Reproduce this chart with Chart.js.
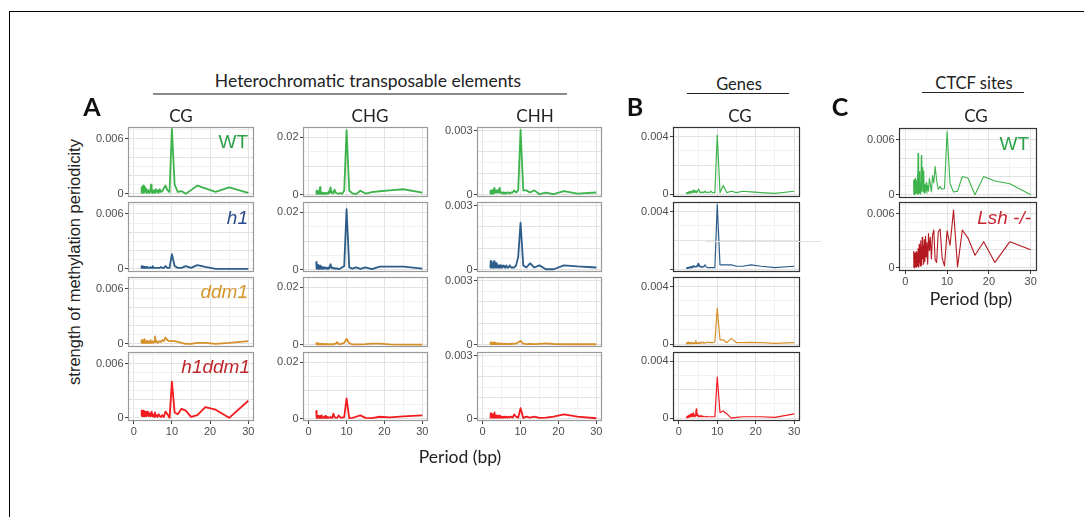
<!DOCTYPE html>
<html>
<head>
<meta charset="utf-8">
<title>Methylation periodicity</title>
<script src="https://cdn.jsdelivr.net/npm/chart.js@4.4.0/dist/chart.umd.min.js"></script>
<style>
    html, body { margin: 0; padding: 0; background: #fff; }
    #fig { position: relative; width: 1084px; height: 517px; overflow: hidden; }
    .frame-top { position: absolute; left: 9px; top: 11px; width: 1080px; height: 0; border-top: 1.5px solid #000; }
    .frame-left { position: absolute; left: 9px; top: 11px; width: 0; height: 520px; border-left: 1.5px solid #000; }
    .rule { position: absolute; height: 0; }
    .txt { position: absolute; white-space: nowrap; line-height: 1; color: #222; transform: translate(-50%, -50%); z-index: 5; }
    .hdr { font-family: Lato, 'Open Sans', sans-serif; font-size: 16.5px; }
    .letter { font-family: Lato, sans-serif; font-weight: 700; font-size: 25px; color: #111; }
    .tag { font-family: 'Liberation Sans', Arial, sans-serif; font-size: 19px; transform: translate(-100%, -50%); }
    canvas.panel { position: absolute; z-index: 1; }
</style>
</head>
<body>
<div id="fig">
    <div class="frame-top"></div>
    <div class="frame-left"></div>

    <div class="txt hdr" style="left:368px; top:81px; font-size:17.5px;">Heterochromatic transposable elements</div>
    <div class="rule" style="left:153px; top:93px; width:414px; border-top:2px solid #8a8a8a;"></div>
    <div class="txt letter" style="left:92px; top:106px;">A</div>
    <div class="txt hdr" style="left:181px; top:115px; font-size:17px;">CG</div>
    <div class="txt hdr" style="left:370px; top:115px; font-size:17px;">CHG</div>
    <div class="txt hdr" style="left:535px; top:115px; font-size:17px;">CHH</div>

    <div class="txt letter" style="left:635px; top:106px;">B</div>
    <div class="txt hdr" style="left:739px; top:84px;">Genes</div>
    <div class="rule" style="left:687px; top:93px; width:102px; border-top:1.5px solid #222;"></div>
    <div class="txt hdr" style="left:740px; top:115px; font-size:17px;">CG</div>

    <div class="txt letter" style="left:840px; top:106px;">C</div>
    <div class="txt hdr" style="left:974px; top:83px;">CTCF sites</div>
    <div class="rule" style="left:922px; top:92px; width:102px; border-top:1.5px solid #222;"></div>
    <div class="txt hdr" style="left:976px; top:115px; font-size:17px;">CG</div>

    <div class="txt" style="left:74px; top:262px; font-family:'Liberation Sans', Arial, sans-serif; font-size:16.5px; transform:translate(-50%, -50%) rotate(-90deg);">strength of methylation periodicity</div>
    <div class="txt hdr" style="left:460px; top:457px; font-size:17.5px;">Period (bp)</div>
    <div class="txt hdr" style="left:971px; top:299px; font-size:17.5px;">Period (bp)</div>

    <div class="rule" style="left:706px; top:241px; width:115px; border-top:1px solid #e2e2e2; z-index:3;"></div>

    <div class="tag txt" style="left:248px; top:141px; color:#2ca148;">WT</div>
    <div class="tag txt" style="left:248px; top:217px; color:#2b4a8c; font-style:italic;">h1</div>
    <div class="tag txt" style="left:248px; top:291px; color:#d4952b; font-style:italic;">ddm1</div>
    <div class="tag txt" style="left:250px; top:366px; color:#c0272d; font-style:italic;">h1ddm1</div>
    <div class="tag txt" style="left:1029px; top:143px; color:#2ca148;">WT</div>
    <div class="tag txt" style="left:1031px; top:217px; color:#c62832; font-style:italic;">Lsh -/-</div>
</div>

<script>
// Period axis (bp), ascending
const period = [
    2, 2.03, 2.05, 2.08, 2.11, 2.14, 2.17, 2.21, 2.24, 2.27,
    2.31, 2.34, 2.38, 2.42, 2.46, 2.5, 2.54, 2.59, 2.63, 2.68,
    2.73, 2.78, 2.83, 2.88, 2.94, 3, 3.06, 3.13, 3.19, 3.26,
    3.33, 3.41, 3.49, 3.57, 3.66, 3.75, 3.85, 3.95, 4.05, 4.17,
    4.29, 4.41, 4.55, 4.69, 4.84, 5, 5.17, 5.36, 5.56, 5.77,
    6, 6.25, 6.52, 6.82, 7.14, 7.5, 7.89, 8.33, 8.82, 9.38,
    10, 10.71, 11.54, 12.5, 13.64, 15, 16.67, 18.75, 21.43, 25, 30
];

const xTickLabels = [0, 10, 20, 30];
const xGridLines = [0, 5, 10, 15, 20, 25, 30];

// A - heterochromatic TEs, CG
const cgWT = [
    0.0001, 0.0004, 0.0002, 0.0006, 0.0003, 0.0007, 0.0002, 0.0005, 0.0008, 0.0003,
    0.0006, 0.0002, 0.0007, 0.0004, 0.0009, 0.0003, 0.0005, 0.0001, 0.0006, 0.0004,
    0.0008, 0.0002, 0.0005, 0.0003, 0.0007, 0.0002, 0.0004, 0.0006, 0.0003, 0.0005,
    0.0001, 0.0004, 0.0002, 0.0003, 0.0001, 0.0002, 0.0004, 0.0002, 0.0003, 0.0001,
    0.0003, 0.0006, 0.0010, 0.0003, 0.0001, 0.0002, 0.0004, 0.0001, 0.0003, 0.0005,
    0.0002, 0.0004, 0.0001, 0.0005, 0.0002, 0.0003, 0.0006, 0.0009, 0.0004, 0.0002,
    0.0071, 0.0010, 0.0002, 0.0003, 0.0000, 0.0004, 0.0009, 0.0006, 0.0002, 0.0007, 0.0001
];
const cgH1 = [
    0.0002, 0.0001, 0.0003, 0.0001, 0.0002, 0.0003, 0.0001, 0.0002, 0.0001, 0.0003,
    0.0001, 0.0002, 0.0001, 0.0003, 0.0001, 0.0002, 0.0001, 0.0002, 0.0001, 0.0001,
    0.0002, 0.0001, 0.0001, 0.0002, 0.0001, 0.0001, 0.0002, 0.0001, 0.0001, 0.0001,
    0.0002, 0.0001, 0.0001, 0.0001, 0.0002, 0.0001, 0.0001, 0.0001, 0.0001, 0.0001,
    0.0001, 0.0002, 0.0001, 0.0001, 0.0001, 0.0003, 0.0001, 0.0001, 0.0001, 0.0001,
    0.0001, 0.0001, 0.0001, 0.0001, 0.0002, 0.0001, 0.0001, 0.0003, 0.0001, 0.0001,
    0.0016, 0.0003, 0.0001, 0.0001, 0.0003, 0.0001, 0.0004, 0.0002, 0.0000, 0.0000, 0.0000
];
const cgDdm1 = [
    0.0003, 0.0001, 0.0004, 0.0002, 0.0001, 0.0003, 0.0001, 0.0002, 0.0004, 0.0001,
    0.0002, 0.0001, 0.0003, 0.0001, 0.0002, 0.0001, 0.0004, 0.0002, 0.0001, 0.0002,
    0.0001, 0.0003, 0.0001, 0.0005, 0.0001, 0.0002, 0.0001, 0.0003, 0.0002, 0.0001,
    0.0002, 0.0001, 0.0003, 0.0001, 0.0002, 0.0001, 0.0003, 0.0002, 0.0001, 0.0002,
    0.0001, 0.0004, 0.0002, 0.0001, 0.0002, 0.0003, 0.0001, 0.0002, 0.0008, 0.0002,
    0.0003, 0.0001, 0.0002, 0.0003, 0.0002, 0.0004, 0.0003, 0.0007, 0.0004, 0.0003,
    0.0003, 0.0003, 0.0002, 0.0001, 0.0000, 0.0000, 0.0001, 0.0001, 0.0000, 0.0001, 0.0003
];
const cgH1ddm1 = [
    0.0002, 0.0006, 0.0003, 0.0008, 0.0004, 0.0007, 0.0002, 0.0006, 0.0003, 0.0008,
    0.0004, 0.0006, 0.0002, 0.0007, 0.0003, 0.0005, 0.0008, 0.0002, 0.0006, 0.0003,
    0.0007, 0.0004, 0.0006, 0.0002, 0.0005, 0.0003, 0.0007, 0.0002, 0.0005, 0.0004,
    0.0006, 0.0002, 0.0004, 0.0007, 0.0003, 0.0005, 0.0002, 0.0006, 0.0003, 0.0004,
    0.0002, 0.0005, 0.0003, 0.0007, 0.0002, 0.0004, 0.0003, 0.0001, 0.0006, 0.0002,
    0.0003, 0.0001, 0.0004, 0.0002, 0.0001, 0.0003, 0.0001, 0.0007, 0.0004, 0.0000,
    0.0040, 0.0006, 0.0004, 0.0010, 0.0008, 0.0001, 0.0003, 0.0012, 0.0009, 0.0000, 0.0019
];

// A - heterochromatic TEs, CHG
const chgWT = [
    0.0012, 0.0004, 0.0015, 0.0006, 0.0010, 0.0003, 0.0013, 0.0005, 0.0008, 0.0004,
    0.0011, 0.0003, 0.0007, 0.0005, 0.0012, 0.0004, 0.0009, 0.0003, 0.0006, 0.0004,
    0.0008, 0.0005, 0.0010, 0.0004, 0.0007, 0.0026, 0.0006, 0.0009, 0.0003, 0.0005,
    0.0008, 0.0004, 0.0006, 0.0003, 0.0007, 0.0005, 0.0004, 0.0006, 0.0003, 0.0005,
    0.0004, 0.0006, 0.0003, 0.0005, 0.0004, 0.0007, 0.0005, 0.0012, 0.0008, 0.0026,
    0.0006, 0.0010, 0.0004, 0.0018, 0.0007, 0.0005, 0.0004, 0.0006, 0.0003, 0.0014,
    0.0225, 0.0014, 0.0005, 0.0002, 0.0014, 0.0004, 0.0009, 0.0012, 0.0015, 0.0019, 0.0007
];
const chgH1 = [
    0.0027, 0.0006, 0.0020, 0.0004, 0.0015, 0.0008, 0.0022, 0.0005, 0.0012, 0.0006,
    0.0018, 0.0004, 0.0010, 0.0007, 0.0016, 0.0003, 0.0009, 0.0005, 0.0013, 0.0004,
    0.0008, 0.0011, 0.0005, 0.0009, 0.0003, 0.0014, 0.0006, 0.0008, 0.0004, 0.0010,
    0.0005, 0.0007, 0.0003, 0.0009, 0.0005, 0.0004, 0.0006, 0.0003, 0.0008, 0.0004,
    0.0005, 0.0007, 0.0004, 0.0006, 0.0003, 0.0005, 0.0008, 0.0004, 0.0010, 0.0019,
    0.0006, 0.0008, 0.0004, 0.0006, 0.0003, 0.0005, 0.0002, 0.0004, 0.0008, 0.0012,
    0.0211, 0.0008, 0.0004, 0.0008, 0.0003, 0.0008, 0.0002, 0.0011, 0.0011, 0.0011, 0.0004
];
const chgDdm1 = [
    0.0006, 0.0002, 0.0005, 0.0001, 0.0004, 0.0002, 0.0006, 0.0001, 0.0003, 0.0002,
    0.0005, 0.0001, 0.0003, 0.0002, 0.0004, 0.0001, 0.0003, 0.0002, 0.0001, 0.0003,
    0.0002, 0.0001, 0.0004, 0.0001, 0.0002, 0.0003, 0.0001, 0.0002, 0.0001, 0.0003,
    0.0001, 0.0002, 0.0001, 0.0003, 0.0001, 0.0002, 0.0001, 0.0002, 0.0001, 0.0002,
    0.0001, 0.0003, 0.0001, 0.0002, 0.0001, 0.0002, 0.0001, 0.0002, 0.0001, 0.0002,
    0.0001, 0.0002, 0.0001, 0.0003, 0.0004, 0.0009, 0.0003, 0.0002, 0.0004, 0.0006,
    0.0021, 0.0005, 0.0001, 0.0001, 0.0001, 0.0002, 0.0004, 0.0004, 0.0001, 0.0000, 0.0000
];
const chgH1ddm1 = [
    0.0028, 0.0006, 0.0012, 0.0004, 0.0010, 0.0005, 0.0013, 0.0003, 0.0009, 0.0005,
    0.0011, 0.0004, 0.0008, 0.0003, 0.0010, 0.0005, 0.0007, 0.0003, 0.0009, 0.0004,
    0.0006, 0.0003, 0.0008, 0.0004, 0.0005, 0.0009, 0.0003, 0.0006, 0.0004, 0.0008,
    0.0003, 0.0005, 0.0012, 0.0004, 0.0006, 0.0003, 0.0005, 0.0004, 0.0007, 0.0003,
    0.0005, 0.0010, 0.0003, 0.0004, 0.0006, 0.0003, 0.0005, 0.0004, 0.0003, 0.0006,
    0.0004, 0.0003, 0.0018, 0.0006, 0.0004, 0.0003, 0.0012, 0.0005, 0.0004, 0.0006,
    0.0072, 0.0002, 0.0003, 0.0007, 0.0012, 0.0003, 0.0002, 0.0007, 0.0005, 0.0008, 0.0012
];

// A - heterochromatic TEs, CHH
const chhWT = [
    0.0001, 0.0002, 0.00005, 0.00015, 0.0001, 0.0002, 0.00005, 0.0001, 0.0002, 0.0001,
    0.00015, 0.00005, 0.0002, 0.0001, 0.00015, 0.0001, 0.0002, 0.00005, 0.0001, 0.00015,
    0.0001, 0.0002, 0.00005, 0.00015, 0.0001, 0.0003, 0.0001, 0.00015, 0.0001, 0.0002,
    0.0001, 0.00015, 0.0001, 0.0002, 0.0001, 0.00015, 0.0001, 0.0001, 0.0002, 0.0001,
    0.0001, 0.0003, 0.0001, 0.00015, 0.0001, 0.0001, 0.00005, 0.0001, 0.0001, 0.00005,
    0.0001, 0.00005, 0.0001, 0.0001, 0.00005, 0.0001, 0.0001, 0.0002, 0.0001, 0.0002,
    0.00303, 0.0002, 0.0002, 0.0001, 0.0002, 0.00002, 0.0001, 0.00002, 0.00017, 0.00005, 0.0001
];
const chhH1 = [
    0.0002, 0.0004, 0.0001, 0.0003, 0.0002, 0.0004, 0.0001, 0.0003, 0.0002, 0.0003,
    0.0001, 0.0003, 0.0002, 0.0004, 0.0001, 0.0002, 0.0003, 0.0001, 0.0002, 0.0003,
    0.0001, 0.0002, 0.0003, 0.0001, 0.0002, 0.0004, 0.0001, 0.0002, 0.0001, 0.0003,
    0.0002, 0.0001, 0.0002, 0.0003, 0.0001, 0.0002, 0.0001, 0.0002, 0.0001, 0.0002,
    0.0001, 0.0002, 0.0001, 0.0002, 0.0001, 0.0002, 0.0001, 0.0001, 0.0002, 0.0001,
    0.0001, 0.0002, 0.0001, 0.0001, 0.0002, 0.0001, 0.0001, 0.0001, 0.0002, 0.0006,
    0.0022, 0.0002, 0.0001, 0.0003, 0.0001, 0.0002, 0.00002, 0.00002, 0.0002, 0.00015, 0.0001
];
const chhDdm1 = [
    0.00005, 0.0001, 0.00003, 0.00008, 0.00005, 0.0001, 0.00003, 0.00007, 0.00004, 0.00009,
    0.00003, 0.00008, 0.00005, 0.0001, 0.00003, 0.00006, 0.00004, 0.00009, 0.00003, 0.00006,
    0.00004, 0.00008, 0.00003, 0.00006, 0.00004, 0.0001, 0.00003, 0.00005, 0.00007, 0.00003,
    0.00006, 0.00004, 0.00008, 0.00003, 0.00005, 0.00004, 0.00006, 0.00003, 0.00005, 0.00004,
    0.00003, 0.00006, 0.00004, 0.00005, 0.00003, 0.00004, 0.00005, 0.00003, 0.00004, 0.00003,
    0.00005, 0.00003, 0.00004, 0.00003, 0.00004, 0.00003, 0.00005, 0.00004, 0.00006, 0.0001,
    0.00018, 0.00005, 0.00002, 0.00003, 0.00002, 0.00004, 0.00006, 0.00003, 0.00002, 0.00002, 0.00002
];
const chhH1ddm1 = [
    0.0001, 0.00025, 0.00005, 0.0002, 0.0001, 0.00015, 0.00005, 0.0002, 0.0001, 0.00025,
    0.00005, 0.00015, 0.0001, 0.0002, 0.00005, 0.0001, 0.00015, 0.00005, 0.0002, 0.0001,
    0.00015, 0.00005, 0.0001, 0.0002, 0.00005, 0.0001, 0.00015, 0.0003, 0.00005, 0.0001,
    0.00015, 0.00005, 0.0001, 0.00015, 0.00005, 0.0001, 0.00005, 0.00015, 0.0001, 0.00005,
    0.0001, 0.00015, 0.00005, 0.0001, 0.00005, 0.0001, 0.00005, 0.0001, 0.00005, 0.0001,
    0.00005, 0.0001, 0.00005, 0.0001, 0.00005, 0.0001, 0.00005, 0.0002, 0.0001, 0.00005,
    0.0005, 0.00003, 0.0001, 0.00005, 0.0001, 0.00004, 0.00005, 0.0001, 0.0002, 0.0001, 0.00002
];

// B - genes, CG
const genesWT = [
    0.00005, 0.0001, 0.00003, 0.00008, 0.00005, 0.0001, 0.00004, 0.00008, 0.00005, 0.0001,
    0.00006, 0.00012, 0.00005, 0.0001, 0.00008, 0.00015, 0.00006, 0.0001, 0.00008, 0.00012,
    0.00007, 0.00015, 0.0001, 0.00018, 0.00008, 0.0002, 0.0001, 0.00015, 0.0001, 0.0002,
    0.00012, 0.0002, 0.0001, 0.00025, 0.00012, 0.0002, 0.00015, 0.0003, 0.00012, 0.0002,
    0.00015, 0.00025, 0.0001, 0.0002, 0.00015, 0.0003, 0.00035, 0.0002, 0.0001, 0.00015,
    0.0001, 0.00015, 0.0001, 0.0002, 0.0001, 0.00015, 0.0001, 0.0002, 0.0001, 0.0001,
    0.0041, 0.0001, 0.0006, 0.0001, 0.0002, 0.0001, 0.0002, 0.00015, 0.0001, 0.00005, 0.0002
];
const genesH1 = [
    0.00005, 0.0001, 0.00005, 0.0001, 0.00008, 0.00005, 0.0001, 0.00005, 0.00008, 0.0001,
    0.00005, 0.0001, 0.00008, 0.00012, 0.00006, 0.0001, 0.00008, 0.00012, 0.00006, 0.0001,
    0.00008, 0.00012, 0.0001, 0.00015, 0.00008, 0.00012, 0.0001, 0.00015, 0.0001, 0.0002,
    0.0001, 0.00015, 0.0001, 0.0002, 0.00012, 0.0002, 0.00015, 0.00025, 0.00015, 0.0002,
    0.00015, 0.0002, 0.00015, 0.00025, 0.0002, 0.0004, 0.0002, 0.0003, 0.00015, 0.0002,
    0.0001, 0.0002, 0.00015, 0.0003, 0.00015, 0.0001, 0.0001, 0.0001, 0.0001, 0.0001,
    0.0045, 0.0003, 0.0003, 0.0003, 0.0003, 0.0002, 0.0002, 0.0003, 0.0002, 0.0001, 0.0002
];
const genesDdm1 = [
    0.0001, 0.00003, 0.00008, 0.00002, 0.0001, 0.00005, 0.00012, 0.00003, 0.0001, 0.00005,
    0.00012, 0.00004, 0.0001, 0.00005, 0.00015, 0.00003, 0.0001, 0.00006, 0.00012, 0.00004,
    0.0001, 0.00005, 0.00008, 0.00003, 0.0001, 0.00006, 0.00012, 0.00004, 0.0001, 0.00005,
    0.00008, 0.00004, 0.0001, 0.00005, 0.00008, 0.00004, 0.00006, 0.0001, 0.00005, 0.00008,
    0.00005, 0.00025, 0.0001, 0.00005, 0.00008, 0.00005, 0.0001, 0.00006, 0.00012, 0.00005,
    0.0001, 0.00015, 0.00005, 0.0001, 0.00008, 0.00015, 0.0001, 0.00012, 0.0001, 0.00015,
    0.0025, 0.0003, 0.0003, 0.0001, 0.0004, 0.0001, 0.0001, 0.00012, 0.0001, 0.00005, 0.0001
];
const genesH1ddm1 = [
    0.00005, 0.0001, 0.00003, 0.00008, 0.00005, 0.00012, 0.00004, 0.0001, 0.00006, 0.00015,
    0.00005, 0.0001, 0.00012, 0.00006, 0.00018, 0.00008, 0.00012, 0.00005, 0.0002, 0.0001,
    0.00015, 0.00008, 0.0002, 0.0001, 0.00025, 0.0001, 0.0002, 0.00012, 0.0003, 0.0001,
    0.00025, 0.00015, 0.0003, 0.0001, 0.0002, 0.00035, 0.00015, 0.0003, 0.0001, 0.0002,
    0.00015, 0.0003, 0.00065, 0.0002, 0.0003, 0.0001, 0.0002, 0.00015, 0.0001, 0.0002,
    0.0001, 0.00015, 0.0001, 0.0001, 0.00012, 0.0001, 0.0001, 0.0001, 0.0001, 0.0001,
    0.0029, 0.0004, 0.0005, 0.0003, 0.0000, 0.00005, 0.0001, 0.0001, 0.0001, 0.00005, 0.0003
];

// C - CTCF sites, CG
const ctcfWT = [
    0.0015, 0.0001, 0.0016, 0.0002, 0.0012, 0.0000, 0.0017, 0.0003, 0.0014, 0.0001,
    0.0016, 0.0004, 0.0011, 0.0002, 0.0018, 0.0001, 0.0013, 0.0003, 0.0015, 0.0002,
    0.0012, 0.0004, 0.0016, 0.0001, 0.0022, 0.0002, 0.0045, 0.0003, 0.0030, 0.0001,
    0.0025, 0.0002, 0.0016, 0.0005, 0.0012, 0.0001, 0.0043, 0.0004, 0.0020, 0.0030,
    0.0003, 0.0026, 0.0002, 0.0011, 0.0004, 0.0013, 0.0002, 0.0010, 0.0004, 0.0018,
    0.0011, 0.0003, 0.0021, 0.0013, 0.0031, 0.0016, 0.0006, 0.0009, 0.0006, 0.0007,
    0.0069, 0.0012, 0.0003, 0.0004, 0.0020, 0.0018, 0.0000, 0.0020, 0.0015, 0.0012, 0.0000
];
const ctcfLsh = [
    0.0018, 0.0001, 0.0012, 0.0003, 0.0016, 0.0000, 0.0010, 0.0004, 0.0015, 0.0001,
    0.0011, 0.0003, 0.0017, 0.0001, 0.0009, 0.0004, 0.0014, 0.0002, 0.0018, 0.0003,
    0.0010, 0.0001, 0.0016, 0.0005, 0.0013, 0.0002, 0.0021, 0.0004, 0.0015, 0.0001,
    0.0026, 0.0006, 0.0018, 0.0002, 0.0030, 0.0008, 0.0022, 0.0003, 0.0034, 0.0010,
    0.0025, 0.0004, 0.0031, 0.0007, 0.0035, 0.0012, 0.0028, 0.0004, 0.0038, 0.0019,
    0.0034, 0.0010, 0.0036, 0.0042, 0.0009, 0.0006, 0.0040, 0.0043, 0.0011, 0.0002,
    0.0041, 0.0025, 0.0064, 0.0001, 0.0042, 0.0033, 0.0014, 0.0029, 0.0006, 0.0029, 0.0020
];

// y tick labels and grid lines per column
const yTicksCG = [0, 0.006];
const yGridCG = [0, 0.001, 0.002, 0.003, 0.004, 0.005, 0.006, 0.007];
const yTicksCHG = [0, 0.02];
const yGridCHG = [0, 0.005, 0.01, 0.015, 0.02];
const yTicksCHH = [0, 0.003];
const yGridCHH = [0, 0.0005, 0.001, 0.0015, 0.002, 0.0025, 0.003];
const yTicksGenes = [0, 0.004];
const yGridGenes = [0, 0.001, 0.002, 0.003, 0.004];

// Margins around each plot area inside its canvas
const M_LEFT = 45;
const M_RIGHT = 10;
const M_TOP = 10;
const M_BOTTOM_AXIS = 22;
const M_BOTTOM_NONE = 10;

const COLORS = {
    wt: '#3cb44b',
    h1: '#2c5d8a',
    ddm1: '#d8902a',
    h1ddm1: '#f21b1f',
    lsh: '#b3191f'
};

const ROWS = [[127, 197], [202, 272], [277, 347], [352, 421]];
const COLS = { cg: [128, 254], chg: [303, 428], chh: [477, 602], genes: [673, 800], ctcf: [899, 1037] };

/**
 * Draw the box around the plot area (ggplot panel.border)
 */
const panelBorder = {
    id: 'panelBorder',
    afterDraw(chart, args, opts) {
        const a = chart.chartArea;
        const ctx = chart.ctx;
        ctx.save();
        ctx.strokeStyle = opts.color || '#999';
        ctx.lineWidth = 1.2;
        ctx.strokeRect(a.left + 0.5, a.top + 0.5, a.right - a.left - 1, a.bottom - a.top - 1);
        ctx.restore();
    }
};

/**
 * Create one small periodicity panel
 * @param {Object} p - panel description
 */
function makePanel(p) {
    const fig = document.getElementById('fig');
    const canvas = document.createElement('canvas');
    canvas.className = 'panel';
    const bottom = p.showX ? M_BOTTOM_AXIS : M_BOTTOM_NONE;
    const w = (p.x1 - p.x0) + M_LEFT + M_RIGHT;
    const h = (p.y1 - p.y0) + M_TOP + bottom;
    canvas.width = w;
    canvas.height = h;
    canvas.style.left = (p.x0 - M_LEFT) + 'px';
    canvas.style.top = (p.y0 - M_TOP) + 'px';
    canvas.style.width = w + 'px';
    canvas.style.height = h + 'px';
    fig.appendChild(canvas);

    const tickFont = { family: "'Liberation Sans', Arial, sans-serif", size: 11 };

    new Chart(canvas.getContext('2d'), {
        type: 'line',
        data: {
            datasets: [{
                data: period.map((x, i) => ({ x: x, y: p.values[i] })),
                borderColor: p.color,
                borderWidth: p.lineWidth,
                borderJoinStyle: 'round',
                pointRadius: 0,
                tension: 0,
                fill: false
            }]
        },
        options: {
            responsive: false,
            animation: false,
            events: [],
            layout: { padding: { top: M_TOP, right: M_RIGHT, bottom: p.showX ? 0 : M_BOTTOM_NONE, left: 0 } },
            plugins: {
                legend: { display: false },
                tooltip: { enabled: false },
                panelBorder: { color: p.border }
            },
            scales: {
                x: {
                    type: 'linear',
                    min: -1.5,
                    max: 31.5,
                    afterBuildTicks: s => { s.ticks = xGridLines.map(v => ({ value: v })); },
                    afterFit: s => { s.height = p.showX ? M_BOTTOM_AXIS : 0; },
                    border: { display: false },
                    grid: {
                        color: c => xTickLabels.includes(c.tick.value) ? '#e3e3e3' : '#f1f1f1',
                        lineWidth: 1,
                        drawTicks: p.showX,
                        tickLength: 3,
                        tickColor: c => xTickLabels.includes(c.tick.value) ? '#444' : 'rgba(0,0,0,0)'
                    },
                    ticks: {
                        display: p.showX,
                        autoSkip: false,
                        maxRotation: 0,
                        padding: 1,
                        color: '#4d4d4d',
                        font: tickFont,
                        callback: v => xTickLabels.includes(v) ? String(v) : ''
                    }
                },
                y: {
                    type: 'linear',
                    min: p.yMin,
                    max: p.yMax,
                    afterBuildTicks: s => { s.ticks = p.yGrid.map(v => ({ value: v })); },
                    afterFit: s => { s.width = M_LEFT; },
                    border: { display: false },
                    grid: {
                        color: c => (p.yTicks.includes(c.tick.value) || p.yMajor.includes(c.tick.value)) ? '#e3e3e3' : '#f1f1f1',
                        lineWidth: 1,
                        tickLength: 3,
                        tickColor: c => p.yTicks.includes(c.tick.value) ? '#444' : 'rgba(0,0,0,0)'
                    },
                    ticks: {
                        autoSkip: false,
                        padding: 1.5,
                        color: '#4d4d4d',
                        font: tickFont,
                        callback: v => {
                            if (!p.yTicks.includes(v)) return '';
                            if (v === 0 && p.hideZero) return '';
                            return String(v);
                        }
                    }
                }
            }
        },
        plugins: [panelBorder]
    });
}

/**
 * Build all panels of the figure
 */
function initializeFigure() {
    const series = [
        { col: 'cg', vals: [cgWT, cgH1, cgDdm1, cgH1ddm1], yMin: -0.00035, yMax: 0.0073, yTicks: yTicksCG, yGrid: yGridCG, yMajor: [0.002, 0.004] },
        { col: 'chg', vals: [chgWT, chgH1, chgDdm1, chgH1ddm1], yMin: -0.0008, yMax: 0.0236, yTicks: yTicksCHG, yGrid: yGridCHG, yMajor: [0.01] },
        { col: 'chh', vals: [chhWT, chhH1, chhDdm1, chhH1ddm1], yMin: -0.00011, yMax: 0.00317, yTicks: yTicksCHH, yGrid: yGridCHH, yMajor: [0.001, 0.002] },
        { col: 'genes', vals: [genesWT, genesH1, genesDdm1, genesH1ddm1], yMin: -0.0002, yMax: 0.00466, yTicks: yTicksGenes, yGrid: yGridGenes, yMajor: [0.002] }
    ];
    const rowColors = [COLORS.wt, COLORS.h1, COLORS.ddm1, COLORS.h1ddm1];

    series.forEach(s => {
        const isGenes = s.col === 'genes';
        s.vals.forEach((values, r) => {
            makePanel({
                values: values,
                color: rowColors[r],
                lineWidth: isGenes ? 1.2 : 1.8,
                x0: COLS[s.col][0], x1: COLS[s.col][1],
                y0: ROWS[r][0], y1: ROWS[r][1],
                yMin: s.yMin, yMax: s.yMax,
                yTicks: s.yTicks, yGrid: s.yGrid, yMajor: s.yMajor,
                showX: r === 3,
                hideZero: isGenes && r === 1,
                border: isGenes ? '#333' : '#9a9a9a'
            });
        });
    });

    // C - CTCF sites
    const ctcfRows = [[128, 198], [202, 271]];
    [ctcfWT, ctcfLsh].forEach((values, r) => {
        makePanel({
            values: values,
            color: r === 0 ? COLORS.wt : COLORS.lsh,
            lineWidth: 1.1,
            x0: COLS.ctcf[0], x1: COLS.ctcf[1],
            y0: ctcfRows[r][0], y1: ctcfRows[r][1],
            yMin: -0.00035, yMax: 0.0073,
            yTicks: yTicksCG, yGrid: yGridCG, yMajor: [0.002, 0.004],
            showX: r === 1,
            hideZero: false,
            border: '#333'
        });
    });
}

document.addEventListener('DOMContentLoaded', initializeFigure);
</script>
</body>
</html>
